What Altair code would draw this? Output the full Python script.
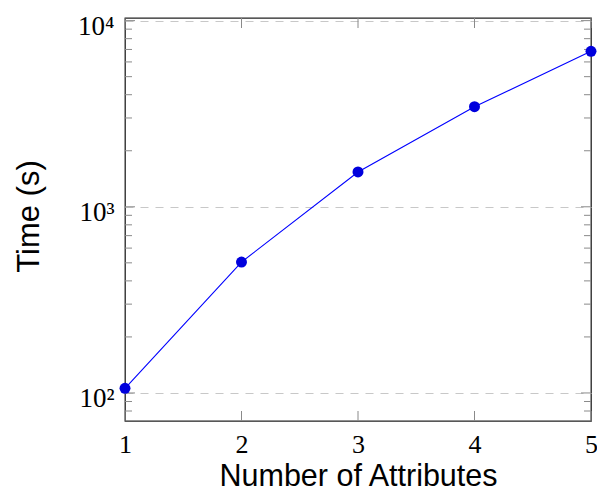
import altair as alt
import pandas as pd

# data
attributes = [1, 2, 3, 4, 5]
times = [106, 505, 1538, 3448, 6846]

# axis ticks
x_ticks = [1, 2, 3, 4, 5]
y_major = [100, 1000, 10000]
y_major_labels = ["10²", "10³", "10⁴"]
y_minor = [80, 90, 200, 300, 400, 500, 600, 700, 800, 900,
           2000, 3000, 4000, 5000, 6000, 7000, 8000, 9000]

W, H = 466, 403
Y_DOMAIN = [70.7, 10330]

df = pd.DataFrame({"attr": attributes, "time": times})
major_df = pd.DataFrame({"v": y_major})
minor_df = pd.DataFrame({"v": y_minor})
xt_df = pd.DataFrame({"v": x_ticks})

label_expr = " : ".join(
    f"datum.value == {v} ? '{l}'" for v, l in zip(y_major, y_major_labels)
) + " : ''"

SERIF = "Liberation Serif"
SANS = "Liberation Sans"

xscale = alt.Scale(domain=[1, 5], nice=False, zero=False)
yscale = alt.Scale(type="log", domain=Y_DOMAIN, nice=False)

xaxis = alt.Axis(
    values=x_ticks, format="d", ticks=False, tickSize=0, domain=False, grid=False,
    labelFont=SERIF, labelFontSize=26, labelColor="#000",
    labelBaseline="alphabetic", labelPadding=31, labelFlush=False,
    title="Number of Attributes", titleFont=SANS, titleFontSize=30.5,
    titleFontWeight="normal", titleColor="#000", titleBaseline="alphabetic",
    titleY=64,
)
yaxis = alt.Axis(
    values=y_major, labelExpr=label_expr, ticks=False, tickSize=0, domain=False,
    grid=True, gridColor="#c8c8c8", gridDash=[8, 7], gridWidth=1.2,
    labelFont=SERIF, labelFontSize=27, labelColor="#000",
    labelAlign="right", labelBaseline="alphabetic", labelOffset=13.5,
    labelPadding=11,
    title="Time (s)", titleFont=SANS, titleFontSize=31,
    titleFontWeight="normal", titleColor="#000", titleBaseline="alphabetic",
    titleX=-87, titleY=198, titleAngle=270,
)

base = alt.Chart(df)
line = base.mark_line(color="#0000ff", strokeWidth=1.1).encode(
    x=alt.X("attr:Q", scale=xscale, axis=xaxis),
    y=alt.Y("time:Q", scale=yscale, axis=yaxis),
)
pts = base.mark_circle(color="#0000dd", size=120, opacity=1).encode(
    x=alt.X("attr:Q", scale=xscale, axis=xaxis),
    y=alt.Y("time:Q", scale=yscale, axis=yaxis),
)

tick_color = "#8a8a8a"


def yticks(src, x0, x1):
    return alt.Chart(src).mark_rule(color=tick_color, strokeWidth=1).encode(
        y=alt.Y("v:Q", scale=yscale, axis=yaxis),
        x=alt.value(x0), x2=alt.value(x1),
    )


def xticks(y0, y1):
    return alt.Chart(xt_df).mark_rule(color=tick_color, strokeWidth=1).encode(
        x=alt.X("v:Q", scale=xscale, axis=xaxis),
        y=alt.value(y0), y2=alt.value(y1),
    )


layers = [
    line,
    yticks(major_df, 0, 10), yticks(major_df, W - 10, W),
    yticks(minor_df, 0, 7), yticks(minor_df, W - 7, W),
    xticks(0, 10), xticks(H - 10, H),
    pts,
]

chart = alt.layer(*layers).properties(
    width=W, height=H,
    padding={"left": 117, "top": 10, "right": 6, "bottom": 70},
    autosize=alt.AutoSizeParams(type="none"),
    background="white",
).configure_view(stroke="#222", strokeWidth=1.3)

chart.save("out.html", embed_options={"renderer": "svg", "actions": False})
